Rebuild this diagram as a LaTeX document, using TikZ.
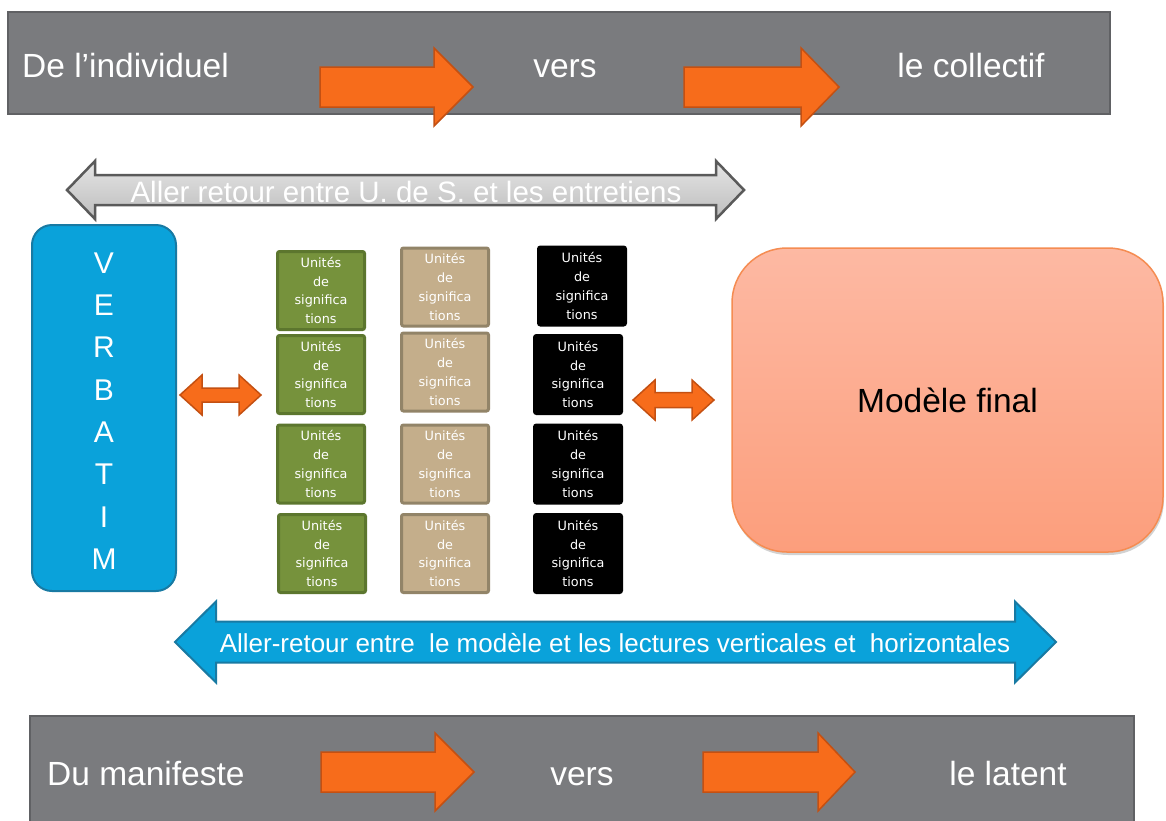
\documentclass[tikz,border=0pt]{standalone}
\usepackage{fontspec}
\setmainfont{Liberation Sans}
\newfontfamily\boxfont{DejaVu Sans}
\usetikzlibrary{shadows}
\definecolor{barGray}{RGB}{122,123,126}
\definecolor{barEdge}{RGB}{96,97,100}
\definecolor{arrOrange}{RGB}{247,108,27}
\definecolor{arrOrangeEdge}{RGB}{196,80,18}
\definecolor{vbBlue}{RGB}{10,162,218}
\definecolor{vbBlueEdge}{RGB}{24,122,163}
\definecolor{grnFill}{RGB}{118,146,60}
\definecolor{grnEdge}{RGB}{92,118,46}
\definecolor{tanFill}{RGB}{196,174,139}
\definecolor{tanEdge}{RGB}{146,132,104}
\definecolor{mdTop}{RGB}{253,185,163}
\definecolor{mdBot}{RGB}{252,158,124}
\definecolor{mdEdge}{RGB}{245,140,82}
\definecolor{gArrEdge}{RGB}{90,90,90}
\newcommand{\RArr}[7]{% style, x1, xb, xt, yc, bh, hh
  \draw[#1] (#2,{#5-#6}) -- (#3,{#5-#6}) -- (#3,{#5-#7}) -- (#4,#5) -- (#3,{#5+#7}) -- (#3,{#5+#6}) -- (#2,{#5+#6}) -- cycle;}
\newcommand{\LRArr}[7]{% style, x1, x2, yc, bh, hh, hl
  \draw[#1] (#2,#4) -- ({#2+#7},{#4-#6}) -- ({#2+#7},{#4-#5}) -- ({#3-#7},{#4-#5}) -- ({#3-#7},{#4-#6}) -- (#3,#4) -- ({#3-#7},{#4+#6}) -- ({#3-#7},{#4+#5}) -- ({#2+#7},{#4+#5}) -- ({#2+#7},{#4+#6}) -- cycle;}
\begin{document}
\begin{tikzpicture}[x=1pt,y=-1pt,
  bar/.style={fill=barGray, draw=barEdge, line width=1.5pt},
  bartext/.style={text=white, font=\fontsize{33.5}{38}\selectfont, inner sep=0pt},
  orarr/.style={fill=arrOrange, draw=arrOrangeEdge, line width=1.5pt, line join=miter},
  unitbox/.style={minimum width=87pt, minimum height=78pt, inner sep=0pt, line width=3pt, rounded corners=2pt, text=white, align=center, font=\boxfont\fontsize{12.8}{18.7}\selectfont},
  grnbox/.style={unitbox, fill=grnFill, draw=grnEdge},
  tanbox/.style={unitbox, fill=tanFill, draw=tanEdge},
  blkbox/.style={unitbox, fill=black, draw=black}]
\useasboundingbox (0,0) rectangle (1166,820);
\fill[white] (0,0) rectangle (1166,820);

% top bar
\draw[bar] (8,12) rectangle (1110,114);
\node[bartext, anchor=base west] (t1) at (22,77) {De l’individuel};
\node[bartext, anchor=base] (t2) at (565,77) {vers};
\node[bartext, anchor=base] (t3) at (971,77) {le collectif};
\RArr{orarr}{320}{434}{473}{87}{20}{39}
\RArr{orarr}{684}{801}{839}{87}{20}{39}

% gray double arrow
\LRArr{top color=white!90!black, bottom color=white!74!black, draw=gArrEdge, line width=2.5pt}{67}{744}{190}{15}{29}{28}
\node[text=white, font=\fontsize{29.5}{33}\selectfont, inner sep=0pt] (g1) at (406,192) {Aller retour entre U. de S. et les entretiens};

% verbatim
\node[fill=vbBlue, draw=vbBlueEdge, line width=2pt, rounded corners=20pt, minimum width=144pt, minimum height=366pt, inner sep=0pt] (verb) at (104,408) {};
\node[text=white, align=center, inner sep=0pt, font=\fontsize{30}{42.3}\selectfont] (verbtxt) at (104,411) {V\\E\\R\\B\\A\\T\\I\\M};

% left orange double arrow
\LRArr{orarr}{180}{261}{395}{7}{20}{22}

% unit boxes
\node[grnbox] (g1a) at (321,290.5) {Unités\\de\\significa\\tions};
\node[grnbox] (g1b) at (321,374.5) {Unités\\de\\significa\\tions};
\node[grnbox] (g1c) at (321,464) {Unités\\de\\significa\\tions};
\node[grnbox] (g1d) at (322,553.5) {Unités\\de\\significa\\tions};
\node[tanbox] (t1a) at (445,287) {Unités\\de\\significa\\tions};
\node[tanbox] (t1b) at (445,372) {Unités\\de\\significa\\tions};
\node[tanbox] (t1c) at (445,464) {Unités\\de\\significa\\tions};
\node[tanbox] (t1d) at (445,553.5) {Unités\\de\\significa\\tions};
\node[blkbox] (b1a) at (582,286) {Unités\\de\\significa\\tions};
\node[blkbox] (b1b) at (578,374.5) {Unités\\de\\significa\\tions};
\node[blkbox] (b1c) at (578,464) {Unités\\de\\significa\\tions};
\node[blkbox] (b1d) at (578,553.5) {Unités\\de\\significa\\tions};

% right orange double arrow
\LRArr{orarr}{633}{714}{400}{7.5}{20}{22}

% modele final
\node[top color=mdTop, bottom color=mdBot, draw=mdEdge, line width=1.5pt, rounded corners=55pt, minimum width=431pt, minimum height=304pt, drop shadow={shadow xshift=1pt, shadow yshift=-3pt, opacity=0.35}, font=\fontsize{33.5}{38}\selectfont] (mf) at (947.5,400) {Modèle final};

% blue double arrow
\LRArr{fill=vbBlue, draw=vbBlueEdge, line width=2pt}{175}{1056}{642}{20.5}{40.5}{41}
\node[text=white, font=\fontsize{26}{30}\selectfont, inner sep=0pt] (bl) at (615,643) {Aller-retour entre\ \ le modèle et les lectures verticales et\ \ horizontales};

% bottom bar
\draw[bar] (30,716) rectangle (1134,830);
\node[bartext, anchor=base west] (u1) at (47,785) {Du manifeste};
\node[bartext, anchor=base] (u2) at (582,785) {vers};
\node[bartext, anchor=base] (u3) at (1008,785) {le latent};
\RArr{orarr}{321}{435}{474}{772}{20}{39}
\RArr{orarr}{703}{818}{855}{772}{20}{39}
\end{tikzpicture}
\end{document}
